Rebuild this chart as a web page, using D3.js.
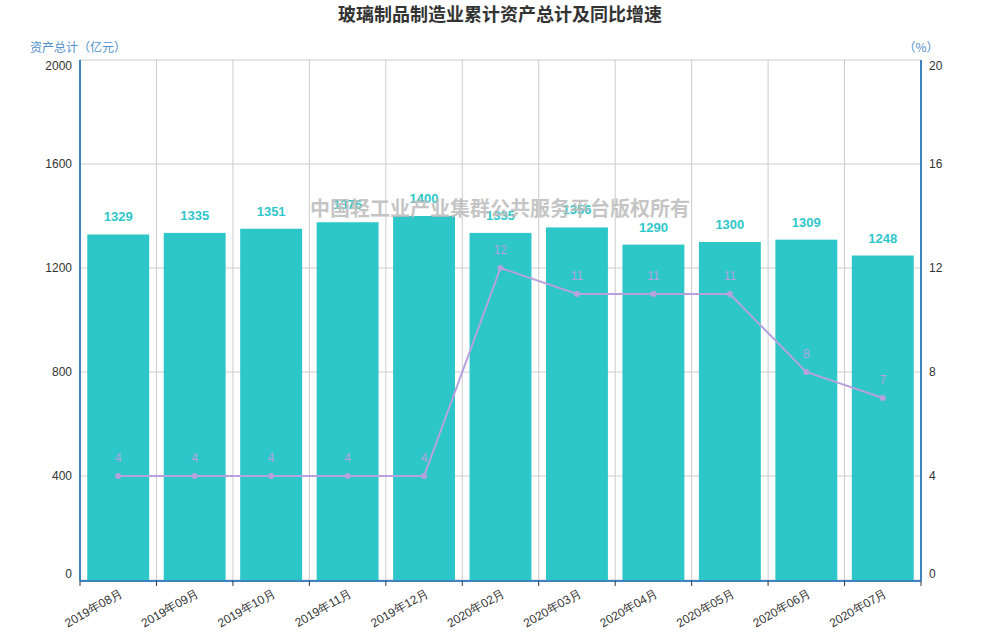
<!DOCTYPE html>
<html><head><meta charset="utf-8">
<script src="https://cdn.jsdelivr.net/npm/d3@7/dist/d3.min.js"></script>
<style>body{margin:0;background:#fff;font-family:"Microsoft YaHei","Noto Sans CJK SC",sans-serif;}</style>
</head><body><svg id="c" width="1000" height="640"></svg>
<script>
const categories=["2019年08月","2019年09月","2019年10月","2019年11月","2019年12月","2020年02月","2020年03月","2020年04月","2020年05月","2020年06月","2020年07月"];
const assets=[1329,1335,1351,1376,1400,1335,1356,1290,1300,1309,1248];
const growth=[4,4,4,4,4,12,11,11,11,8,7];
const leftTicks=[0,400,800,1200,1600,2000];
const rightTicks=[0,4,8,12,16,20];

const svg=d3.select("#c");
const L=80,R=921,T=60,B=580;
const x=d3.scaleBand().domain(categories).range([L,R]).paddingInner(0).paddingOuter(0);
const yL=d3.scaleLinear().domain([0,2000]).range([B,T]);
const yR=d3.scaleLinear().domain([0,20]).range([B,T]);
const cjk='"Microsoft YaHei","Noto Sans CJK SC",sans-serif';

svg.append("text").attr("x",500).attr("y",21).attr("text-anchor","middle")
 .attr("font-size",18).attr("font-weight","bold").attr("fill","#333").attr("font-family",cjk)
 .text("玻璃制品制造业累计资产总计及同比增速");

// horizontal grid
svg.append("g").selectAll("line").data(leftTicks).join("line")
 .attr("x1",L).attr("x2",R).attr("y1",d=>yL(d)).attr("y2",d=>yL(d))
 .attr("stroke","#ccc").attr("stroke-width",1);
// vertical grid
const bounds=categories.map(c=>x(c)).concat([R]);
svg.append("g").selectAll("line").data(bounds).join("line")
 .attr("x1",d=>d).attr("x2",d=>d).attr("y1",T).attr("y2",B)
 .attr("stroke","#ccc").attr("stroke-width",1);

// bars
const bw=x.bandwidth()*0.81;
svg.append("g").selectAll("rect").data(assets).join("rect")
 .attr("x",(d,i)=>x(categories[i])+(x.bandwidth()-bw)/2)
 .attr("width",bw).attr("y",d=>yL(d)).attr("height",d=>B-yL(d))
 .attr("fill","#2ec7c9");
svg.append("g").selectAll("text").data(assets).join("text")
 .attr("x",(d,i)=>x(categories[i])+x.bandwidth()/2).attr("y",d=>yL(d)-13)
 .attr("text-anchor","middle").attr("font-size",13).attr("font-weight","bold")
 .attr("fill","#2ec7c9").attr("font-family","Arial,Liberation Sans,sans-serif").text(d=>d);

// watermark
svg.append("text").attr("x",500).attr("y",216).attr("text-anchor","middle")
 .attr("font-size",20).attr("font-weight","bold").attr("fill","#bbb").attr("fill-opacity",0.85)
 .attr("font-family",cjk).text("中国轻工业产业集群公共服务平台版权所有");

// line
const cx=(d,i)=>x(categories[i])+x.bandwidth()/2;
svg.append("path").datum(growth)
 .attr("d",d3.line().x(cx).y(d=>yR(d)))
 .attr("fill","none").attr("stroke","#b6a2de").attr("stroke-width",2);
svg.append("g").selectAll("circle").data(growth).join("circle")
 .attr("cx",cx).attr("cy",d=>yR(d)).attr("r",3).attr("fill","#b6a2de");
svg.append("g").selectAll("text").data(growth).join("text")
 .attr("x",cx).attr("y",d=>yR(d)-14).attr("text-anchor","middle")
 .attr("font-size",12).attr("fill","#b6a2de").attr("font-family","Arial,Liberation Sans,sans-serif").text(d=>d);

// axes lines
const axisColor="#3f84c0";
svg.append("line").attr("x1",L).attr("x2",L).attr("y1",T).attr("y2",B+1).attr("stroke",axisColor).attr("stroke-width",2);
svg.append("line").attr("x1",R).attr("x2",R).attr("y1",T).attr("y2",B+1).attr("stroke",axisColor).attr("stroke-width",2);
svg.append("line").attr("x1",L).attr("x2",R).attr("y1",B+1).attr("y2",B+1).attr("stroke",axisColor).attr("stroke-width",2);
// x ticks
svg.append("g").selectAll("line").data(bounds).join("line")
 .attr("x1",d=>d).attr("x2",d=>d).attr("y1",B+1).attr("y2",B+6).attr("stroke","#333").attr("stroke-width",1);

// y labels
svg.append("g").selectAll("text").data(leftTicks).join("text")
 .attr("x",72).attr("y",d=>yL(d)+(d===2000?6:d===0?-6:0)).attr("dy","0.35em")
 .attr("text-anchor","end").attr("font-size",12).attr("fill","#333")
 .attr("font-family","Arial,Liberation Sans,sans-serif").text(d=>d);
svg.append("g").selectAll("text").data(rightTicks).join("text")
 .attr("x",929).attr("y",d=>yR(d)+(d===20?6:d===0?-6:0)).attr("dy","0.35em")
 .attr("text-anchor","start").attr("font-size",12).attr("fill","#333")
 .attr("font-family","Arial,Liberation Sans,sans-serif").text(d=>d);

// x labels
svg.append("g").selectAll("text").data(categories).join("text")
 .attr("transform",(d)=>`translate(${x(d)+x.bandwidth()/2+3},${B+12}) rotate(-30)`)
 .attr("dy","0.35em").attr("text-anchor","end").attr("font-size",12).attr("fill","#333")
 .attr("font-family","Arial,Liberation Sans,sans-serif").text(d=>d);

// axis names
svg.append("text").attr("x",78).attr("y",52).attr("text-anchor","middle").attr("font-size",12)
 .attr("fill","#4f90cc").attr("font-family",cjk).text("资产总计（亿元）");
svg.append("text").attr("x",921).attr("y",52).attr("text-anchor","middle").attr("font-size",12)
 .attr("fill","#4f90cc").attr("font-family",cjk).text("（%）");
</script></body></html>
